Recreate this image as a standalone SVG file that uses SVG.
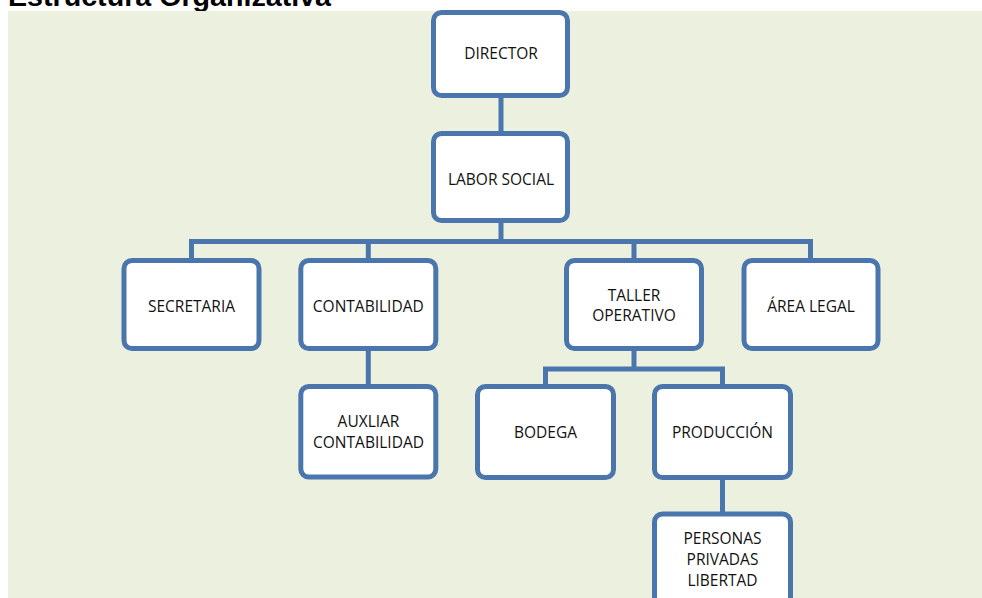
<svg xmlns="http://www.w3.org/2000/svg" width="982" height="598" viewBox="0 0 982 598">
<style>
.node rect{fill:#ffffff;stroke:#4a76ad;stroke-width:5}
.node text{font-family:"Open Sans","Liberation Sans",sans-serif;font-size:15.5px;fill:#111111;text-anchor:middle}
#connectors path{fill:none;stroke:#4a76ad;stroke-width:5;stroke-linejoin:miter}
.title{font-family:"Liberation Sans",Arial,sans-serif;font-weight:bold;font-size:28.5px;fill:#000000}
</style>
<rect width="982" height="598" fill="#ffffff"/>
<text class="title" x="8" y="5.5" textLength="323" lengthAdjust="spacingAndGlyphs">Estructura Organizativa</text>
<rect x="8" y="11" width="974" height="587" fill="#ebf0df"/>
<g id="connectors">
<path d="M501 98V131"/>
<path d="M501 223V241.5"/>
<path d="M191.5 258V241.5H810.5V258"/>
<path d="M368.3 241.5V258"/>
<path d="M634 241.5V258"/>
<path d="M368.3 350V384"/>
<path d="M634 349V369"/>
<path d="M545.5 384V369H722.5V384"/>
<path d="M722.5 480V512"/>
</g>
<g id="director" class="node"><rect x="433.5" y="12.5" width="134" height="83" rx="8"/><text x="501" y="59">DIRECTOR</text></g>
<g id="labor-social" class="node"><rect x="433.5" y="133.5" width="134" height="87" rx="8"/><text x="501" y="185">LABOR SOCIAL</text></g>
<g id="secretaria" class="node"><rect x="124" y="260.5" width="135" height="88" rx="8"/><text x="191.5" y="311.5">SECRETARIA</text></g>
<g id="contabilidad" class="node"><rect x="300.8" y="260.5" width="135" height="88" rx="8"/><text x="368.3" y="311.5">CONTABILIDAD</text></g>
<g id="taller-operativo" class="node"><rect x="566.5" y="260.5" width="135" height="88" rx="8"/><text x="634" y="300.7">TALLER</text><text x="634" y="321">OPERATIVO</text></g>
<g id="area-legal" class="node"><rect x="744" y="260.5" width="134" height="88" rx="8"/><text x="811" y="311.5">ÁREA LEGAL</text></g>
<g id="auxliar-contabilidad" class="node"><rect x="300.8" y="386.5" width="135" height="90.5" rx="8"/><text x="368.5" y="427.3">AUXLIAR</text><text x="368.5" y="447.7">CONTABILIDAD</text></g>
<g id="bodega" class="node"><rect x="477.5" y="386.5" width="136" height="91" rx="8"/><text x="545.5" y="438">BODEGA</text></g>
<g id="produccion" class="node"><rect x="654.5" y="386.5" width="136" height="91" rx="8"/><text x="722.5" y="438">PRODUCCIÓN</text></g>
<g id="personas-privadas-libertad" class="node"><rect x="654.5" y="514" width="136" height="100" rx="8"/><text x="722.5" y="544.3">PERSONAS</text><text x="722.5" y="565">PRIVADAS</text><text x="722.5" y="586">LIBERTAD</text></g>
</svg>
